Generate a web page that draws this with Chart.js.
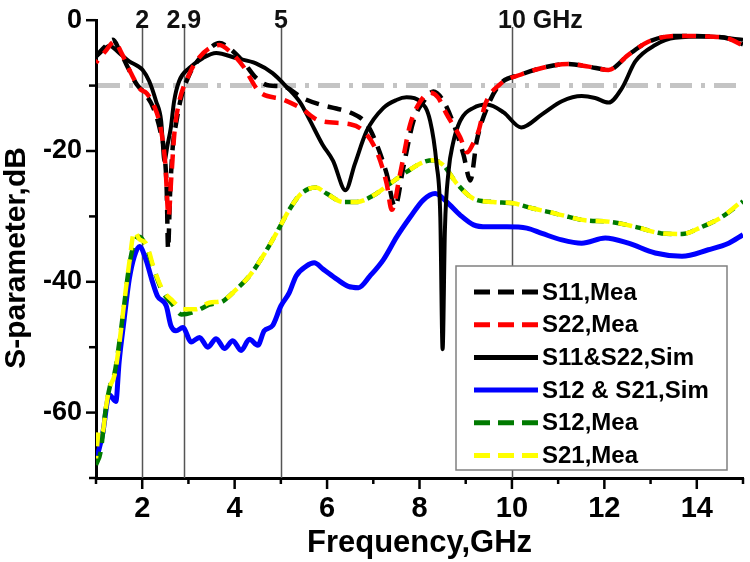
<!DOCTYPE html>
<html>
<head>
<meta charset="utf-8">
<script src="https://cdn.jsdelivr.net/npm/chart.js@4.4.0/dist/chart.umd.min.js"></script>
<style>html,body{margin:0;padding:0;background:#fff;}canvas{display:block;}</style>
</head>
<body>
<canvas id="c" width="750" height="562"></canvas>
<script>
const FONT = '"Liberation Sans", Arial, sans-serif';

// ---- data (frequency in GHz, S-parameters in dB) ----
const simReflFreq = [1.0,1.15,1.29,1.5,1.72,1.9,2.01,2.15,2.3,2.41,2.48,2.55,2.62,2.69,2.8,3.02,3.31,3.6,4.03,4.46,4.82,5.11,5.42,5.62,5.9,6.13,6.4,6.6,6.86,7.22,7.5,7.72,8.01,8.23,8.37,8.45,8.5,8.55,8.63,8.72,8.88,9.17,9.46,9.82,10.2,10.65,11.08,11.51,11.8,12.09,12.38,12.67,13.1,13.53,14.25,15.0];
const simRefl     = [-5.6,-4.6,-3.9,-5.0,-6.3,-7.0,-7.6,-9.3,-12.4,-15.4,-21.5,-19.0,-16.4,-12.4,-9.3,-7.3,-5.8,-5.0,-5.8,-6.6,-8.1,-10.1,-12.6,-15.2,-19.0,-21.5,-26.0,-22.0,-16.9,-13.4,-12.2,-11.8,-12.4,-15.4,-22.0,-30.0,-50.3,-32.0,-23.0,-19.0,-15.4,-13.4,-12.9,-14.1,-16.4,-14.4,-12.4,-11.6,-11.9,-12.6,-10.4,-6.3,-3.8,-2.7,-2.5,-3.0];

const s11MeaFreq = [1.0,1.2,1.37,1.5,1.66,1.88,2.02,2.24,2.39,2.49,2.53,2.56,2.6,2.66,2.73,2.84,3.02,3.2,3.38,3.67,3.89,4.18,4.46,4.75,5.04,5.47,5.85,6.2,6.5,6.86,7.07,7.29,7.47,7.65,7.87,8.09,8.3,8.52,8.74,8.95,9.1,9.24,9.46,9.74,10.2,10.65,11.22,11.66,12.09,12.52,12.95,13.53,14.25,14.68,15.0];
const s11Mea     = [-5.5,-4.0,-3.0,-4.5,-6.8,-9.8,-10.9,-13.4,-16.9,-21.0,-26.0,-35.0,-27.0,-19.4,-15.9,-11.9,-8.3,-6.2,-4.8,-3.5,-4.3,-6.3,-8.8,-10.0,-10.1,-11.9,-12.9,-13.5,-14.1,-15.9,-18.9,-23.5,-28.5,-22.5,-15.4,-12.4,-10.9,-12.4,-15.9,-20.5,-24.5,-18.4,-13.4,-9.8,-8.3,-7.3,-6.7,-7.1,-7.6,-5.3,-3.3,-2.4,-2.5,-2.8,-3.7];

const s22MeaFreq = [1.0,1.2,1.4,1.55,1.75,1.95,2.1,2.25,2.4,2.5,2.57,2.63,2.7,2.8,3.0,3.2,3.45,3.67,3.9,4.18,4.53,5.04,5.42,5.85,6.5,6.78,7.07,7.29,7.4,7.58,7.8,8.02,8.23,8.4,8.59,8.88,9.03,9.15,9.28,9.42,9.74,10.2,10.65,11.22,11.66,12.09,12.52,12.95,13.53,14.25,14.68,15.0];
const s22Mea     = [-6.5,-4.8,-3.3,-5.0,-8.0,-10.5,-11.2,-13.0,-16.5,-22.0,-30.0,-24.0,-17.0,-12.5,-8.5,-6.0,-4.3,-3.8,-4.8,-7.0,-10.9,-12.1,-13.4,-15.4,-15.9,-16.9,-20.0,-25.0,-29.0,-23.5,-15.9,-12.4,-11.1,-11.8,-14.4,-17.9,-20.2,-19.0,-16.9,-12.9,-9.8,-8.3,-7.3,-6.7,-7.1,-7.6,-5.3,-3.3,-2.4,-2.5,-2.8,-3.9];

const simTransFreq = [1.0,1.14,1.29,1.43,1.5,1.61,1.72,1.83,1.94,2.08,2.23,2.33,2.52,2.62,2.73,2.88,3.06,3.24,3.42,3.6,3.78,3.96,4.14,4.32,4.5,4.64,4.82,5.0,5.18,5.33,5.55,5.72,5.92,6.21,6.46,6.68,6.93,7.22,7.51,7.8,8.08,8.34,8.59,8.88,9.17,9.46,9.89,10.32,10.65,11.08,11.51,12.02,12.52,13.1,13.68,14.25,14.69,15.0];
const simTrans     = [-67.4,-63.4,-57.3,-58.3,-52.3,-45.7,-39.6,-36.1,-34.6,-36.6,-40.2,-42.2,-43.7,-46.7,-47.5,-47.0,-49.2,-48.5,-50.0,-48.7,-50.2,-49.0,-50.5,-48.8,-49.7,-47.5,-46.7,-43.7,-41.7,-39.1,-37.6,-37.1,-38.1,-39.6,-40.7,-40.9,-39.1,-36.6,-33.1,-30.1,-27.5,-26.5,-27.8,-29.8,-31.3,-31.6,-31.6,-31.8,-32.6,-33.6,-34.1,-33.3,-34.1,-35.6,-36.1,-35.1,-34.1,-32.8];

const s12MeaFreq = [1.0,1.1,1.2,1.3,1.4,1.5,1.61,1.72,1.83,1.94,2.08,2.26,2.44,2.66,2.85,3.16,3.45,3.74,4.03,4.32,4.61,4.9,5.18,5.4,5.6,5.76,5.99,6.35,6.64,7.0,7.36,7.72,8.08,8.3,8.52,8.81,9.17,9.6,10.03,10.46,10.79,11.08,11.58,12.09,12.67,13.24,13.68,14.11,14.54,15.0];
const s12Mea     = [-68.0,-66.0,-60.0,-56.0,-54.0,-49.5,-43.5,-37.5,-34.0,-33.1,-34.5,-38.3,-41.5,-43.5,-45.0,-44.5,-43.5,-43.0,-41.2,-39.1,-36.1,-32.6,-29.0,-26.8,-25.8,-25.6,-26.5,-27.8,-27.8,-26.8,-25.0,-23.2,-21.7,-21.4,-22.2,-25.0,-27.3,-27.8,-28.0,-28.8,-29.3,-29.8,-30.6,-30.8,-31.6,-32.6,-32.7,-31.6,-30.1,-27.7];

const s21MeaFreq = [1.0,1.07,1.14,1.22,1.29,1.4,1.5,1.61,1.72,1.83,1.94,2.08,2.26,2.44,2.66,2.88,3.16,3.45,3.74,4.03,4.32,4.61,4.9,5.18,5.4,5.6,5.76,5.99,6.35,6.64,7.0,7.36,7.72,8.08,8.3,8.52,8.81,9.17,9.6,10.03,10.46,10.79,11.08,11.58,12.09,12.67,13.24,13.68,14.11,14.54,15.0];
const s21Mea     = [-67.0,-62.5,-63.0,-59.0,-56.3,-54.3,-49.7,-43.2,-37.1,-32.3,-33.5,-34.1,-38.1,-41.2,-42.9,-44.2,-44.2,-43.2,-42.9,-41.2,-39.1,-36.1,-32.6,-29.0,-26.8,-25.8,-25.6,-26.5,-27.8,-27.8,-26.8,-25.0,-23.2,-21.7,-21.4,-22.2,-25.0,-27.3,-27.8,-28.0,-28.8,-29.3,-29.8,-30.6,-30.8,-31.6,-32.6,-32.7,-31.6,-30.1,-27.5];

const seriesNames = ['S11,Mea','S22,Mea','S11&S22,Sim','S12 & S21,Sim','S12,Mea','S21,Mea'];
const markerFreqs = [2, 2.9, 5, 10];
const markerLabels = ['2', '2.9', '5', '10 GHz'];
const refLevel = -10;

function pts(xs, ys) { return xs.map((x, i) => ({ x: x, y: ys[i] })); }

const DASH = [14, 9];

const datasets = [
  { label: seriesNames[0], data: pts(s11MeaFreq, s11Mea), borderColor: '#000000', borderWidth: 4.5, borderDash: DASH, borderDashOffset: 0, order: 1 },
  { label: seriesNames[1], data: pts(s22MeaFreq, s22Mea), borderColor: '#ff0000', borderWidth: 4.5, borderDash: DASH, borderDashOffset: 11, order: 0 },
  { label: seriesNames[2], data: pts(simReflFreq, simRefl), borderColor: '#000000', borderWidth: 4, order: 2 },
  { label: seriesNames[3], data: pts(simTransFreq, simTrans), borderColor: '#0000ff', borderWidth: 5, order: 5 },
  { label: seriesNames[4], data: pts(s12MeaFreq, s12Mea), borderColor: '#007a00', borderWidth: 4.5, borderDash: DASH, borderDashOffset: 0, order: 4 },
  { label: seriesNames[5], data: pts(s21MeaFreq, s21Mea), borderColor: '#ffff00', borderWidth: 4.5, borderDash: DASH, borderDashOffset: 11, order: 3 }
];
datasets.forEach(d => { d.fill = false; d.pointRadius = 0; d.cubicInterpolationMode = 'monotone'; d.borderCapStyle = 'butt'; });

const deco = {
  id: 'deco',
  beforeDatasetsDraw(chart) {
    const { ctx, chartArea: a, scales: { x, y } } = chart;
    ctx.save();
    // marker lines
    ctx.strokeStyle = '#555555';
    ctx.lineWidth = 1.5;
    markerFreqs.forEach(f => {
      const px = Math.round(x.getPixelForValue(f)) + 0.5;
      ctx.beginPath(); ctx.moveTo(px, 27); ctx.lineTo(px, a.bottom); ctx.stroke();
    });
    // -10 dB reference line
    const ry = y.getPixelForValue(refLevel);
    ctx.strokeStyle = '#c4c4c4';
    ctx.lineWidth = 5;
    ctx.setLineDash([22, 9, 4, 9]);
    ctx.beginPath(); ctx.moveTo(a.left + 2, ry); ctx.lineTo(a.right, ry); ctx.stroke();
    ctx.setLineDash([]);
    // marker labels
    ctx.fillStyle = '#111';
    ctx.font = 'bold 25px ' + FONT;
    ctx.textBaseline = 'alphabetic';
    markerFreqs.forEach((f, i) => {
      const px = x.getPixelForValue(f);
      const lbl = markerLabels[i];
      const first = lbl.split(' ')[0];
      const w = ctx.measureText(first).width;
      ctx.textAlign = 'left';
      ctx.fillText(lbl, px - w / 2, 28);
    });
    ctx.restore();
  },
  afterDatasetsDraw(chart) {
    const { ctx } = chart;
    ctx.save();
    // legend box
    const bx = 456, by = 266, bw = 271, bh = 204;
    ctx.fillStyle = '#ffffff';
    ctx.fillRect(bx, by, bw, bh);
    ctx.strokeStyle = '#808080';
    ctx.lineWidth = 1.5;
    ctx.strokeRect(bx, by, bw, bh);
    ctx.font = 'bold 24px ' + FONT;
    ctx.textBaseline = 'middle';
    ctx.textAlign = 'left';
    chart.data.datasets.forEach((d, i) => {
      const ly = 292 + i * 32.7;
      ctx.strokeStyle = d.borderColor;
      ctx.lineWidth = 5;
      ctx.setLineDash(d.borderDash ? [16, 8] : []);
      ctx.beginPath(); ctx.moveTo(474, ly); ctx.lineTo(538, ly); ctx.stroke();
      ctx.setLineDash([]);
      ctx.fillStyle = '#000';
      ctx.fillText(d.label, 542, ly + 1);
    });
    ctx.restore();
  },
  afterDraw(chart) {
    const { ctx, chartArea: a, scales: { x, y } } = chart;
    ctx.save();
    ctx.strokeStyle = '#000';
    ctx.lineWidth = 2.5;
    for (let v = 1; v <= 15; v++) {
      const px = x.getPixelForValue(v);
      const len = v % 2 === 0 ? 11 : 6;
      ctx.beginPath(); ctx.moveTo(px, a.bottom); ctx.lineTo(px, a.bottom + len); ctx.stroke();
    }
    for (let v = 0; v >= -70; v -= 10) {
      const py = y.getPixelForValue(v);
      const len = v % 20 === 0 ? 10 : 7;
      ctx.beginPath(); ctx.moveTo(a.left - len, py); ctx.lineTo(a.left, py); ctx.stroke();
    }
    // y axis title
    ctx.translate(17, 258);
    ctx.rotate(-Math.PI / 2);
    ctx.fillStyle = '#000';
    ctx.font = 'bold 30px ' + FONT;
    ctx.textAlign = 'center';
    ctx.textBaseline = 'middle';
    ctx.fillText('S-parameter,dB', 0, 0);
    ctx.restore();
  }
};

new Chart(document.getElementById('c').getContext('2d'), {
  type: 'line',
  data: { datasets: datasets },
  options: {
    responsive: false,
    animation: false,
    devicePixelRatio: 1,
    layout: { padding: { top: 15, right: 7, left: 0, bottom: 0 } },
    plugins: { legend: { display: false }, tooltip: { enabled: false } },
    scales: {
      x: {
        type: 'linear', min: 1, max: 15,
        ticks: { stepSize: 1, autoSkip: false, maxRotation: 0, color: '#000', font: { family: FONT, size: 29, weight: 'bold' }, padding: 4,
                 callback: v => (v % 2 === 0 ? String(v) : '') },
        grid: { drawOnChartArea: false, drawTicks: true, tickLength: 10, tickColor: 'rgba(0,0,0,0)' },
        border: { display: true, color: '#000', width: 3 },
        title: { display: true, text: 'Frequency,GHz', color: '#000', font: { family: FONT, size: 31, weight: 'bold' }, padding: { top: 0, bottom: 0 } },
        afterFit: s => { s.height = 84; }
      },
      y: {
        type: 'linear', min: -70, max: 0,
        ticks: { stepSize: 10, autoSkip: false, color: '#000', font: { family: FONT, size: 27, weight: 'bold' }, padding: 4,
                 callback: v => (v % 20 === 0 ? String(v) : '') },
        grid: { drawOnChartArea: false, drawTicks: true, tickLength: 10, tickColor: 'rgba(0,0,0,0)' },
        border: { display: true, color: '#000', width: 3 },
        afterFit: s => { s.width = 96; }
      }
    }
  },
  plugins: [deco]
});
</script>
</body>
</html>
